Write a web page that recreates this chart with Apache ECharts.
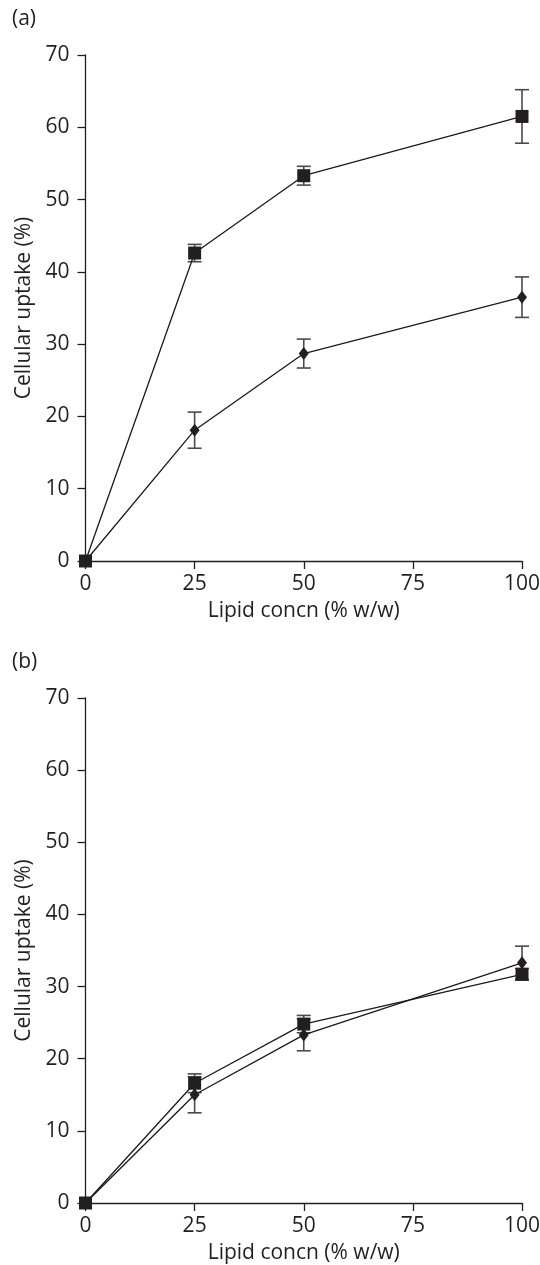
<!DOCTYPE html>
<html>
<head>
<meta charset="utf-8">
<script src="https://cdn.jsdelivr.net/npm/echarts@6/dist/echarts.min.js"></script>
<style>
    html, body { margin: 0; padding: 0; background: #fff; }
    #chart { width: 540px; height: 1265px; }
</style>
</head>
<body>
<div id="chart"></div>
<script>
    // x values (lipid concn, % w/w)
    var lipidConc = [0, 25, 50, 100];
    var xTicks = [0, 25, 50, 75, 100];
    var yTicks = [0, 10, 20, 30, 40, 50, 60, 70];

    // panel (a)
    var aSquare = [0, 42.6, 53.3, 61.5];
    var aSquareErr = [0, 1.2, 1.3, 3.7];
    var aDiamond = [0, 18.1, 28.7, 36.5];
    var aDiamondErr = [0, 2.5, 2.0, 2.8];

    // panel (b)
    var bSquare = [0, 16.6, 24.8, 31.7];
    var bSquareErr = [0, 1.3, 1.2, 0.8];
    var bDiamond = [0, 15.0, 23.3, 33.3];
    var bDiamondErr = [0, 2.5, 2.2, 2.3];

    var FONT = '"Open Sans", "DejaVu Sans", sans-serif';
    var FS = 21;
    var TXT = '#231f20';

    function pairs(vals) {
        return lipidConc.map(function (x, i) { return [x, vals[i]]; });
    }
    function errData(vals, errs) {
        return lipidConc.map(function (x, i) { return [x, vals[i] - errs[i], vals[i] + errs[i]]; });
    }

    function renderErr(params, api) {
        var lo = api.coord([api.value(0), api.value(1)]);
        var hi = api.coord([api.value(0), api.value(2)]);
        if (Math.abs(lo[1] - hi[1]) < 0.5) return null;
        var w = 7;
        var st = { stroke: '#4a4a4a', lineWidth: 1.6 };
        return {
            type: 'group',
            children: [
                { type: 'line', shape: { x1: lo[0], y1: lo[1], x2: hi[0], y2: hi[1] }, style: st },
                { type: 'line', shape: { x1: lo[0] - w, y1: lo[1], x2: lo[0] + w, y2: lo[1] }, style: st },
                { type: 'line', shape: { x1: hi[0] - w, y1: hi[1], x2: hi[0] + w, y2: hi[1] }, style: st }
            ]
        };
    }

    function xAxisOf(idx) {
        return {
            type: 'value', gridIndex: idx, min: 0, max: 100, interval: 25,
            name: 'Lipid concn (% w/w)', nameLocation: 'middle', nameGap: 40,
            nameTextStyle: { fontFamily: FONT, fontSize: FS, color: TXT },
            axisLine: { lineStyle: { color: '#231f20', width: 1.3 } },
            axisTick: { length: 8, lineStyle: { color: '#231f20', width: 1.3 } },
            axisLabel: { margin: 13, fontFamily: FONT, fontSize: FS, color: TXT },
            splitLine: { show: false }
        };
    }
    function yAxisOf(idx) {
        return {
            type: 'value', gridIndex: idx, min: 0, max: 70, interval: 10,
            name: 'Cellular uptake (%)', nameLocation: 'middle', nameGap: 50,
            nameTextStyle: { fontFamily: FONT, fontSize: FS, color: TXT },
            axisLine: { show: true, lineStyle: { color: '#231f20', width: 1.3 } },
            axisTick: { show: true, length: 8, lineStyle: { color: '#231f20', width: 1.3 } },
            axisLabel: { margin: 16, fontFamily: FONT, fontSize: FS, color: TXT },
            splitLine: { show: false }
        };
    }
    function lineSeries(idx, vals, sym, size) {
        return {
            type: 'line', xAxisIndex: idx, yAxisIndex: idx, data: pairs(vals),
            symbol: sym, symbolSize: size, showSymbol: true,
            lineStyle: { color: '#1a1a1a', width: 1.3 },
            itemStyle: { color: '#231f20' },
            z: 3, animation: false
        };
    }
    function errSeries(idx, vals, errs) {
        return {
            type: 'custom', xAxisIndex: idx, yAxisIndex: idx,
            data: errData(vals, errs), renderItem: renderErr,
            encode: { x: 0, y: [1, 2] }, z: 2, animation: false
        };
    }

    var myChart = echarts.init(document.getElementById('chart'));
    myChart.setOption({
        backgroundColor: '#fff',
        animation: false,
        grid: [
            { left: 85.5, right: 18, top: 55, height: 506, containLabel: false, outerBoundsMode: 'none' },
            { left: 85.5, right: 18, top: 698, height: 505, containLabel: false, outerBoundsMode: 'none' }
        ],
        xAxis: [xAxisOf(0), xAxisOf(1)],
        yAxis: [yAxisOf(0), yAxisOf(1)],
        graphic: [
            { type: 'text', left: 12, top: 9, style: { text: '(a)', font: FS + 'px ' + FONT, fill: TXT } },
            { type: 'text', left: 12, top: 652, style: { text: '(b)', font: FS + 'px ' + FONT, fill: TXT } }
        ],
        series: [
            errSeries(0, aSquare, aSquareErr),
            errSeries(0, aDiamond, aDiamondErr),
            lineSeries(0, aSquare, 'rect', 13),
            lineSeries(0, aDiamond, 'diamond', [10, 13]),
            errSeries(1, bSquare, bSquareErr),
            errSeries(1, bDiamond, bDiamondErr),
            lineSeries(1, bSquare, 'rect', 13),
            lineSeries(1, bDiamond, 'diamond', [10, 13])
        ]
    });
</script>
</body>
</html>
